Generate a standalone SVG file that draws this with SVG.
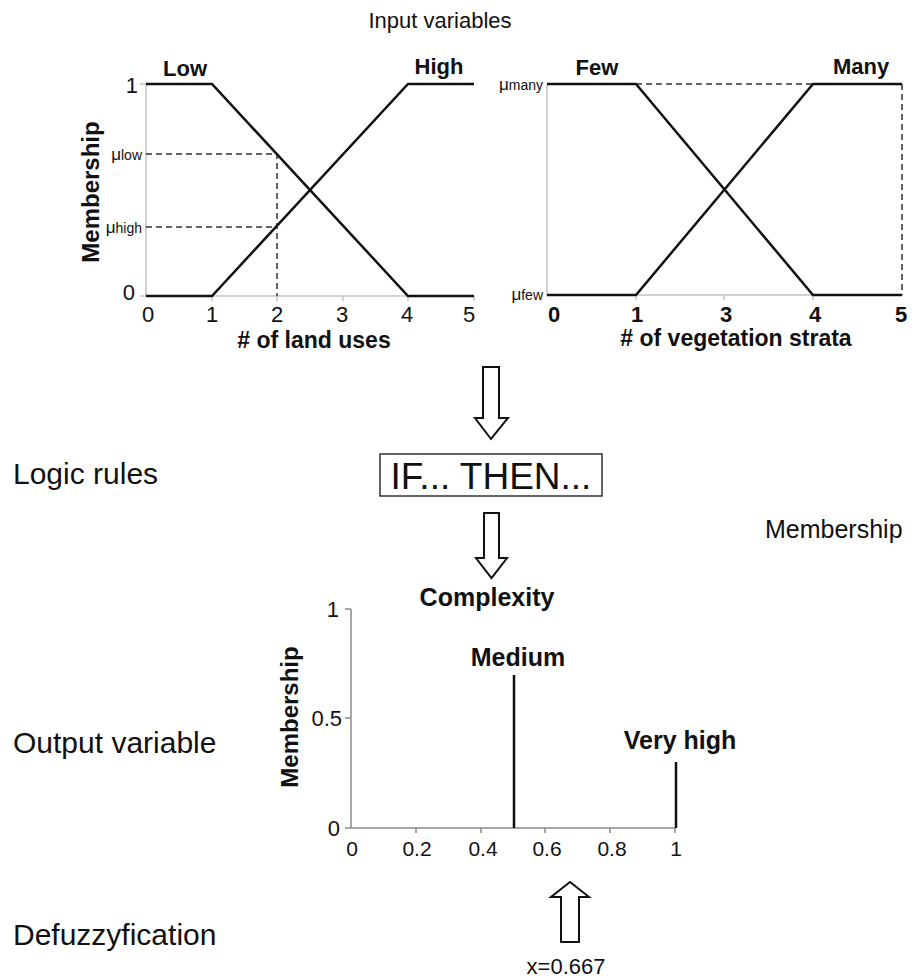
<svg xmlns="http://www.w3.org/2000/svg" width="918" height="979" viewBox="0 0 918 979">
<style>
text{font-family:"Liberation Sans",Arial,sans-serif;fill:#111}
.b{font-weight:bold}
.ax{stroke:#c4c4c4;stroke-width:1.5;fill:none}
.ax3{stroke:#8a8a8a;stroke-width:1.5;fill:none}
.mf{stroke:#111;stroke-width:2.5;fill:none;stroke-linejoin:miter}
.dash{stroke:#333;stroke-width:1.5;stroke-dasharray:6,4;fill:none}
.arr{fill:#fff;stroke:#111;stroke-width:2}
.t21{font-size:21px}
.t22{font-size:22px}
.mu{font-size:17px}
.sub{font-size:14px}
</style>
<rect width="918" height="979" fill="#fff"/>

<g id="title"><text x="440" y="28" font-size="22" text-anchor="middle">Input variables</text></g>

<g id="chart-land-uses">
  <path class="ax" d="M146,84 V296 H474 M140,84 H146 M140,296 H146 M212,296 v5 M277,296 v5 M343,296 v5 M408,296 v5 M474,296 v5"/>
  <path class="dash" d="M146,154 H277 V296 M146,227 H277"/>
  <path class="mf" d="M146,84 H212 L408,296 H474"/>
  <path class="mf" d="M146,296 H212 L408,84 H474"/>
  <text class="b" x="185" y="76" font-size="22" text-anchor="middle">Low</text>
  <text class="b" x="439" y="74" font-size="22" text-anchor="middle">High</text>
  <text class="t22" x="138" y="93" text-anchor="end">1</text>
  <text class="t22" x="135" y="300" text-anchor="end">0</text>
  <text x="142" y="160" text-anchor="end"><tspan class="mu">μ</tspan><tspan class="sub">low</tspan></text>
  <text x="142" y="233" text-anchor="end"><tspan class="mu">μ</tspan><tspan class="sub">high</tspan></text>
  <g class="t22" text-anchor="middle">
    <text x="148" y="322">0</text><text x="212" y="322">1</text><text x="277" y="322">2</text>
    <text x="342" y="322">3</text><text x="407" y="322">4</text><text x="469" y="322">5</text>
  </g>
  <text class="b" x="314" y="348" font-size="23" text-anchor="middle"># of land uses</text>
  <text class="b" font-size="24" text-anchor="middle" transform="translate(99,192) rotate(-90)">Membership</text>
</g>

<g id="chart-vegetation-strata">
  <path class="ax" d="M547,84 V295 H902 M636,295 v5 M724,295 v5 M813,295 v5"/>
  <path class="dash" d="M636,84 H813 M902,84 V295"/>
  <path class="mf" d="M547,84 H636 L813,295 H902"/>
  <path class="mf" d="M547,295 H636 L813,84 H902"/>
  <text class="b" x="597" y="75" font-size="22" text-anchor="middle">Few</text>
  <text class="b" x="861" y="74" font-size="22" text-anchor="middle">Many</text>
  <text x="543" y="90" text-anchor="end"><tspan class="mu">μ</tspan><tspan class="sub">many</tspan></text>
  <text x="543" y="300" text-anchor="end"><tspan class="mu">μ</tspan><tspan class="sub">few</tspan></text>
  <g class="b" font-size="22" text-anchor="middle">
    <text x="554" y="322">0</text><text x="637" y="322">1</text><text x="726" y="322">3</text>
    <text x="815" y="322">4</text><text x="901" y="322">5</text>
  </g>
  <text class="b" x="736" y="346" font-size="23" text-anchor="middle"># of vegetation strata</text>
</g>

<g id="logic-rules-label"><text x="13" y="484" font-size="30">Logic rules</text></g>
<g id="membership-label"><text x="765" y="538" font-size="25">Membership</text></g>
<g id="output-variable-label"><text x="13" y="753" font-size="30">Output variable</text></g>
<g id="defuzzyfication-label"><text x="13" y="945" font-size="30">Defuzzyfication</text></g>

<g id="rules-box">
  <rect x="380" y="454" width="222" height="42" fill="#fff" stroke="#333" stroke-width="1.5"/>
  <text x="491" y="489" font-size="37" text-anchor="middle">IF... THEN...</text>
</g>

<g id="chart-complexity">
  <path class="ax3" d="M351,609 V828 H675 M345,609 H351 M345,718 H351 M345,828 H351 M416,828 v5 M481,828 v5 M545,828 v5 M610,828 v5 M675,828 v5"/>
  <path class="mf" d="M514,675 V828 M676,762 V828"/>
  <text class="b" x="487" y="606" font-size="25" text-anchor="middle">Complexity</text>
  <text class="t22" x="339" y="617" text-anchor="end">1</text>
  <text class="t22" x="342" y="726" text-anchor="end">0.5</text>
  <text class="t22" x="340" y="836" text-anchor="end">0</text>
  <text class="b" x="518" y="666" font-size="25" text-anchor="middle">Medium</text>
  <text class="b" x="680" y="749" font-size="25" text-anchor="middle">Very high</text>
  <g class="t21" text-anchor="middle">
    <text x="352" y="856">0</text><text x="417" y="856">0.2</text><text x="483" y="856">0.4</text>
    <text x="547" y="856">0.6</text><text x="612" y="856">0.8</text><text x="676" y="856">1</text>
  </g>
  <text class="b" font-size="24" text-anchor="middle" transform="translate(298,717) rotate(-90)">Membership</text>
</g>

<g id="defuzz-value"><text x="566" y="974" font-size="22" text-anchor="middle">x=0.667</text></g>

<g id="connectors">
  <path class="arr" d="M483,367 H499 V418 H508 L491,439 L475,418 H483 Z"/>
  <path class="arr" d="M484,513 H499 V558 H507 L491.5,578 L476,558 H484 Z"/>
  <path class="arr" d="M561,942 V897 H551 L570,882 L589,897 H579 V942 Z"/>
</g>
</svg>
